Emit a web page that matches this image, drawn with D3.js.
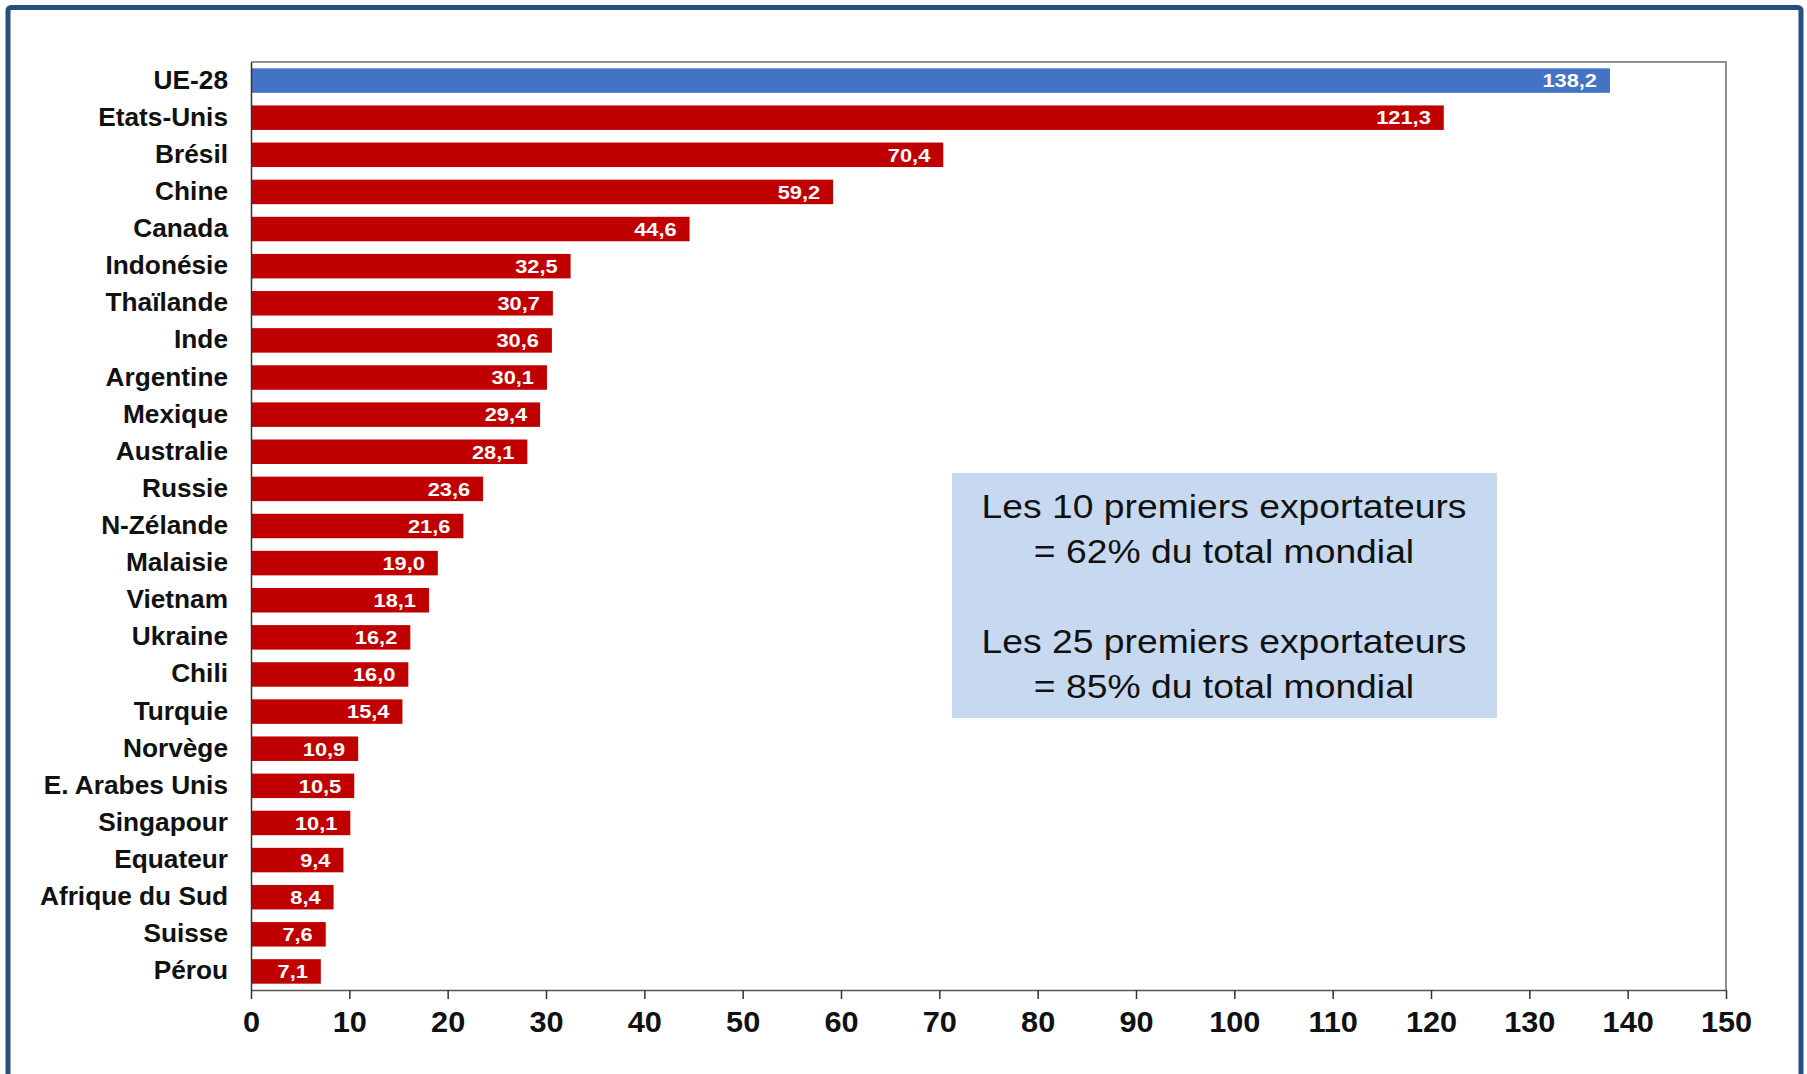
<!DOCTYPE html>
<html><head><meta charset="utf-8">
<script src="https://cdn.jsdelivr.net/npm/d3@7"></script>
<style>html,body{margin:0;padding:0;background:#fff;overflow:hidden}</style>
</head><body>
<svg id="chart" width="1807" height="1074"></svg>
<script>
const categories = ["UE-28","Etats-Unis","Brésil","Chine","Canada","Indonésie","Thaïlande","Inde","Argentine","Mexique","Australie","Russie","N-Zélande","Malaisie","Vietnam","Ukraine","Chili","Turquie","Norvège","E. Arabes Unis","Singapour","Equateur","Afrique du Sud","Suisse","Pérou"];
const values = [138.2,121.3,70.4,59.2,44.6,32.5,30.7,30.6,30.1,29.4,28.1,23.6,21.6,19.0,18.1,16.2,16.0,15.4,10.9,10.5,10.1,9.4,8.4,7.6,7.1];
const xTicks = [0,10,20,30,40,50,60,70,80,90,100,110,120,130,140,150];
const noteLines = ["Les 10 premiers exportateurs","= 62% du total mondial","","Les 25 premiers exportateurs","= 85% du total mondial"];

const svg = d3.select("#chart");
const font = "'Liberation Sans', Arial, sans-serif";
const L = 251, R = 1726, T = 62, B = 990;

// outer frame
svg.append("rect").attr("x",8).attr("y",7.5).attr("width",1793).attr("height",1110)
  .attr("rx",3).attr("fill","none").attr("stroke","#24507f").attr("stroke-width",5);

const x = d3.scaleLinear().domain([0,150]).range([L,R]);
const y = d3.scaleBand().domain(categories).range([T,B]).paddingInner(0.34).paddingOuter(0.17);

// plot frame (top/right)
svg.append("path").attr("d",`M${L},${T}H${R}V${B}`).attr("fill","none").attr("stroke","#6e6e6e").attr("stroke-width",1.5);

// bars
const data = categories.map((c,i)=>({c,v:values[i],i}));
svg.append("g").selectAll("rect").data(data).join("rect")
  .attr("x",x(0)).attr("y",d=>y(d.c)).attr("width",d=>x(d.v)-x(0)).attr("height",y.bandwidth())
  .attr("fill",d=>d.i===0?"#4472c4":"#c00000");

// value labels
svg.append("g").selectAll("text").data(data).join("text")
  .attr("transform",d=>`translate(${x(d.v)-13},${y(d.c)+y.bandwidth()/2}) scale(1.16,1)`)
  .attr("dy","0.36em")
  .attr("text-anchor","end").attr("fill","#fff").attr("font-family",font)
  .attr("font-weight","bold").attr("font-size",18.8)
  .text(d=>d.v.toFixed(1).replace(".",","));

// y axis
const yAxis = svg.append("g").attr("transform",`translate(${L},0)`).call(d3.axisLeft(y).tickSize(0).tickPadding(23));
yAxis.select(".domain").attr("stroke","#333").attr("stroke-width",1.5);
yAxis.selectAll("text").attr("font-family",font).attr("font-weight","bold").attr("font-size",25).attr("fill","#111")
  .attr("x",-23/1.05).attr("transform","scale(1.05,1)");

// x axis
const xAxis = svg.append("g").attr("transform",`translate(0,${B})`)
  .call(d3.axisBottom(x).tickValues(xTicks).tickSize(9).tickPadding(12).tickSizeOuter(0));
xAxis.select(".domain").attr("stroke","#555").attr("stroke-width",1.5);
xAxis.selectAll(".tick line").attr("stroke","#333").attr("stroke-width",1.5);
xAxis.selectAll("text").attr("font-family",font).attr("font-weight","bold").attr("font-size",29.5).attr("fill","#111")
  .attr("transform","scale(1.04,1)");

// note box
svg.append("rect").attr("x",952).attr("y",473).attr("width",545).attr("height",245).attr("fill","#c6d9f0");
const nb = svg.append("text").attr("transform","translate(1224,0) scale(1.13,1)")
  .attr("font-family",font).attr("font-size",33).attr("text-anchor","middle").attr("fill","#111");
noteLines.forEach((t,i)=>{
  nb.append("tspan").attr("x",0).attr("y",518+i*44.9).text(t);
});
</script>
</body></html>
